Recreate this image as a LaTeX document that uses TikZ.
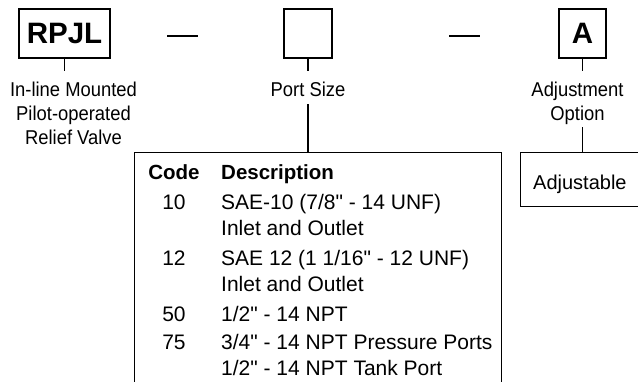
\documentclass[tikz,border=0pt]{standalone}
\usepackage{fontspec}
\setmainfont{Liberation Sans}[Ligatures=TeXOff]
\newfontfamily\narrowfont{Liberation Sans}[Ligatures=TeXOff, FakeStretch=0.92]
\usetikzlibrary{positioning}

\begin{document}
\begin{tikzpicture}[x=1pt, y=-1pt,
  codebox/.style={draw, line width=1.4pt, inner sep=0pt, minimum height=49pt,
    font=\fontsize{29.5}{30}\selectfont\bfseries},
  tick/.style={line width=1.2pt},
  partlbl/.style={inner sep=0pt, align=center,
    font=\narrowfont\fontsize{20}{24}\selectfont},
  listbox/.style={draw, line width=1.3pt, inner sep=0pt, anchor=north west},
  cell/.style={inner sep=0pt, anchor=base, font=\fontsize{21}{24}\selectfont},
  desc/.style={cell, anchor=base west}]
  \useasboundingbox (0,0) rectangle (638,381);

  % Model code boxes
  \node[codebox, minimum width=91pt] (rpjl) at (64.5,33.5) {RPJL};
  \node[codebox, minimum width=48pt] (size) at (308,33.5) {};
  \node[codebox, minimum width=47pt] (adj) at (582.5,33.5) {A};

  % Dashes between the boxes
  \coordinate (dashA) at (167,36);
  \coordinate (dashB) at (198,36);
  \coordinate (dashC) at (449,36);
  \coordinate (dashD) at (480,36);
  \draw[tick] (dashA) -- (dashB);
  \draw[tick] (dashC) -- (dashD);

  % Labels under the boxes
  \node[partlbl, below=23.5pt of rpjl, xshift=9pt] (valve)
    {In-line Mounted\\Pilot-operated\\Relief Valve};
  \node[partlbl, below=23.5pt of size] (sizelbl) {Port Size};
  \node[partlbl, below=23.5pt of adj, xshift=-5pt] (adjlbl) {Adjustment\\Option};

  % Ticks
  \draw[tick] (rpjl.south) -- ([yshift=11.5pt]rpjl.south |- valve.north);
  \draw[tick] (size.south) -- ([yshift=11.5pt]size.south |- sizelbl.north);
  \draw[tick] (adj.south) -- ([yshift=11.5pt]adj.south |- adjlbl.north);

  % Port size table
  \node[listbox, minimum width=367pt, minimum height=260pt] (codes) at (134,152) {};
  \draw[tick] ([yshift=-7pt]sizelbl.south) -- (sizelbl.south |- codes.north);
  \node[cell, font=\fontsize{20.5}{24}\selectfont\bfseries] (codehd) at (174,179) {Code};
  \node[desc, font=\fontsize{20.5}{24}\selectfont\bfseries] (deschd) at (221,179) {Description};
  \foreach \y/\c in {209/10, 265/12, 321/50, 349/75}
    \node[cell] at (174,\y) {\c};
  \foreach \y/\t in {209/{SAE-10 (7/8" - 14 UNF)}, 235/{Inlet and Outlet},
      265/{SAE 12 (1 1/16" - 12 UNF)}, 291/{Inlet and Outlet},
      321/{1/2" - 14 NPT}, 349/{3/4" - 14 NPT Pressure Ports},
      375/{1/2" - 14 NPT Tank Port}}
    \node[desc] at (221,\y) {\t};

  % Adjustment option
  \node[listbox, minimum width=120pt, minimum height=54pt] (adjbox) at (520,152) {};
  \node[desc, font=\fontsize{20}{24}\selectfont] (adjtxt) at (533,189) {Adjustable};
  \draw[tick] ([yshift=-2pt]adj.south |- adjlbl.south) -- (adj.south |- adjbox.north);
\end{tikzpicture}
\end{document}
